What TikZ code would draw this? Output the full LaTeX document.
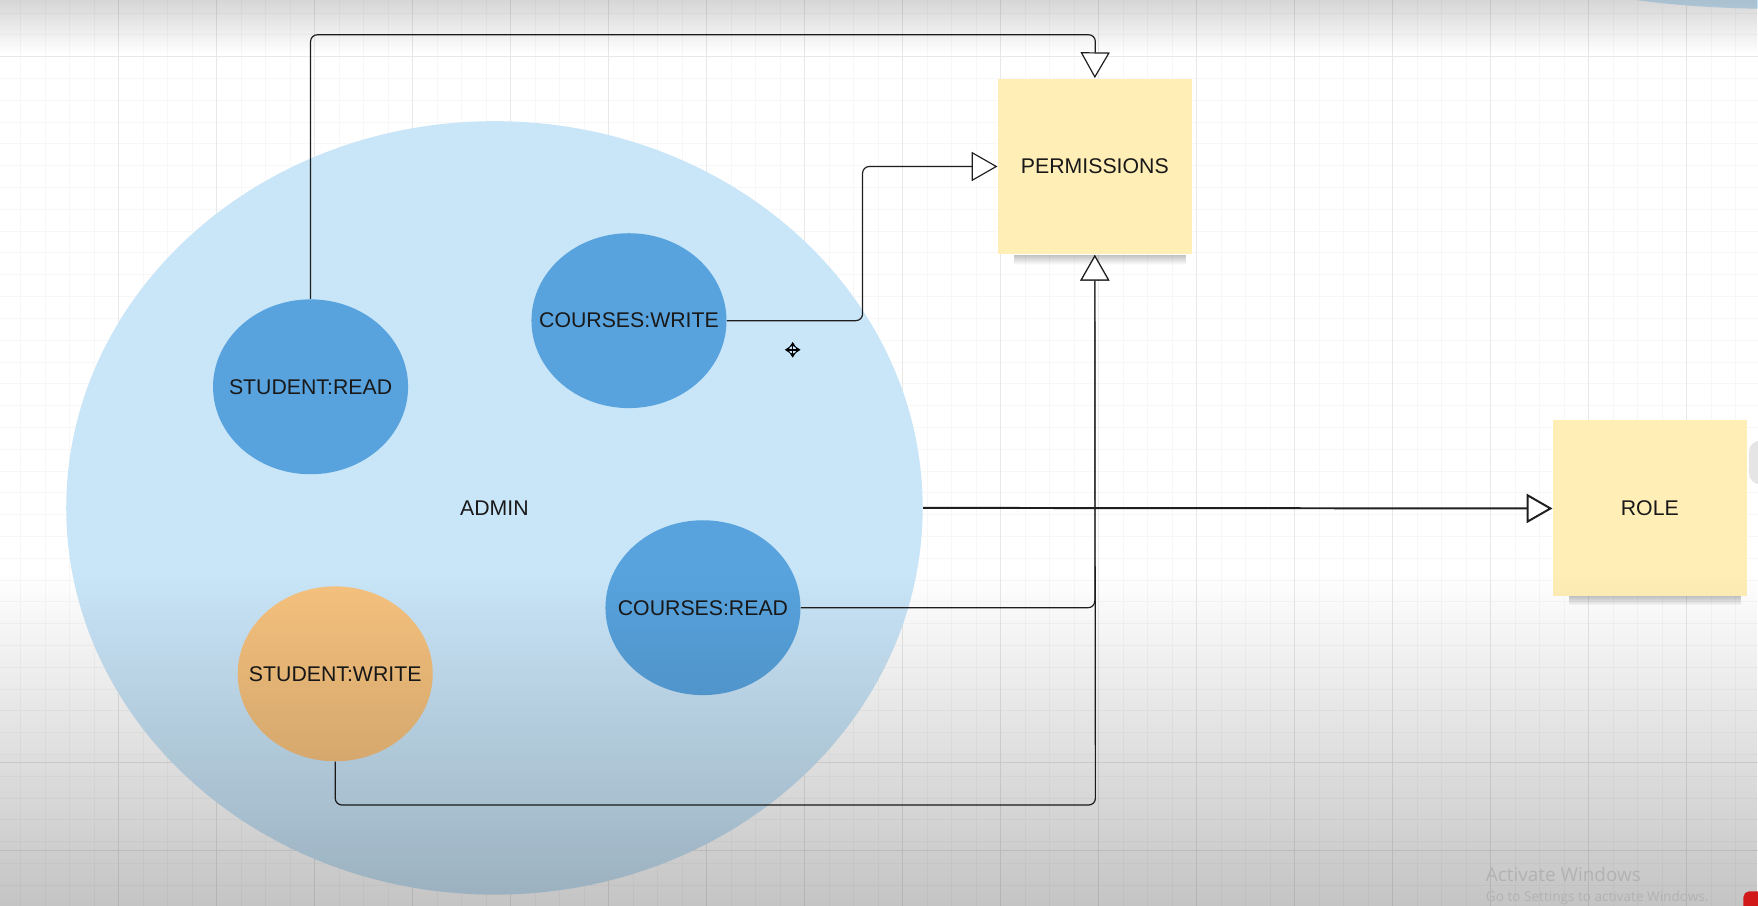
\documentclass[tikz,border=0pt]{standalone}
\usepackage{fontspec}
\setmainfont{Liberation Sans}
\newfontfamily\winfont{Open Sans}
\usetikzlibrary{shapes.geometric,arrows.meta,fadings,calc}

\definecolor{adminblue}{HTML}{C9E5F8}
\definecolor{permblue}{HTML}{58A3DE}
\definecolor{permorange}{HTML}{F6C27E}
\definecolor{notepaper}{HTML}{FFEEB6}
\definecolor{inkline}{HTML}{1E1E1E}

\tikzfading[name=fadedown, top color=transparent!100, bottom color=transparent!0]
\tikzfading[name=fadeup, top color=transparent!0, bottom color=transparent!100]

\tikzset{
  txt/.style={text=black!90, font=\fontsize{10.8}{13}\selectfont},
  roleball/.style={txt, ellipse, fill=adminblue, inner sep=0pt, minimum width=15.28cm, minimum height=13.8cm},
  permball/.style={ellipse, fill=permblue, inner sep=0pt, minimum width=3.48cm, minimum height=3.12cm,
    label={[txt]center:{#1}}},
  note/.style={txt, rectangle, fill=notepaper, inner sep=0pt, minimum width=3.46cm, minimum height=3.14cm},
  link/.style={draw=inkline, line width=0.6pt, rounded corners=1.2mm,
    -{Triangle[length=4.6mm, width=5.2mm, fill=white]}},
  gridminor/.style={draw=black!3, line width=0.4pt},
  gridmajor/.style={draw=black!9, line width=0.5pt},
  noteshadow/.style={fill=black, fill opacity=0.25, path fading=fadeup}
}

\begin{document}
\begin{tikzpicture}[x=0.02cm, y=-0.02cm]

\clip (0,0) rectangle (1568,808);
\fill[white] (0,0) rectangle (1568,808);

% grid
\foreach \gx in {0,...,71} \draw[gridminor] ({18.6+21.85*\gx},0) -- ++(0,808);
\foreach \gy in {0,...,41} \draw[gridminor] (0,{11.6+19.45*\gy}) -- ++(1568,0);
\foreach \gx in {0,...,16} \draw[gridmajor] ({106+87.4*\gx},0) -- ++(0,808);
\foreach \gy in {50.5,680,758.5} \draw[gridmajor] (0,\gy) -- ++(1568,0);

% bits of the canvas beyond the view
\fill[adminblue] (1590,-25) ellipse [x radius=4cm, y radius=0.66cm];
\fill[black!10, rounded corners=0.2cm] (1560,393) rectangle (1590,432);

% role and its permissions
\node[roleball] (admin) at (441,453) {ADMIN};
\node[permball=STUDENT:READ] (sread) at (277,345) {};
\node[permball=COURSES:WRITE] (cwrite) at (561,286) {};
\node[permball=COURSES:READ] (cread) at (627,542) {};
\node[permball=STUDENT:WRITE, fill=permorange] (swrite) at (299,601) {};

% sticky notes
\fill[noteshadow] (904,227) rectangle (1058,236);
\fill[noteshadow] (1399,531) rectangle (1553,540);
\node[note] (perm) at (976.5,148.5) {PERMISSIONS};
\node[note] (role) at (1471.5,453.5) {ROLE};

% connectors
\coordinate (uppass) at (977,31);
\coordinate (lowpass) at (977,718);
\draw[link] (sread.north) |- (uppass) -- (perm.north);
\draw[link] (cwrite.east) -- ++(121,0) |- (perm.west);
\draw[link] (cread.east) -| (perm.south);
\draw[link] (swrite.south) |- (lowpass) -- (perm.south);
\draw[link, line width=1pt] (admin.east) -- (role.west);

% move cursor
\draw[line width=0.7pt, {Stealth[length=1mm, width=1.3mm]}-{Stealth[length=1mm, width=1.3mm]}] (700,312) -- (714,312);
\draw[line width=0.7pt, {Stealth[length=1mm, width=1.3mm]}-{Stealth[length=1mm, width=1.3mm]}] (707,305) -- (707,319);

% screen shading of the recording
\fill[black, fill opacity=0.16, path fading=fadeup] (0,0) rectangle (1568,48);
\fill[black, fill opacity=0.23, path fading=fadedown] (0,510) rectangle (1568,808);

% watermark
\node[anchor=base west, inner sep=0pt, text=black!30, font=\winfont\fontsize{9.6}{11}\selectfont] (winmark) at (1325,786) {Activate Windows};
\node[anchor=base west, inner sep=0pt, text=black!30, font=\winfont\fontsize{6.9}{8}\selectfont] (winhint) at (1325,804) {Go to Settings to activate Windows.};
\fill[red!80!black!90, rounded corners=0.1cm] (1555,795) rectangle (1580,820);

\end{tikzpicture}
\end{document}
